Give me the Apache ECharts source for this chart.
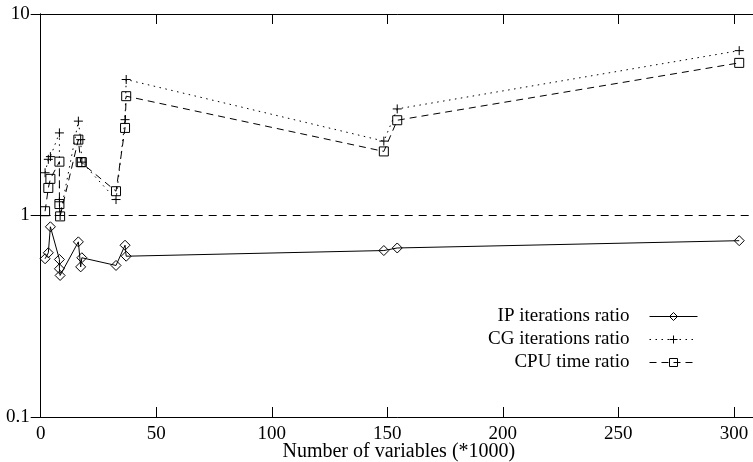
<!DOCTYPE html>
<html>
<head>
<meta charset="utf-8">
<script src="https://cdn.jsdelivr.net/npm/echarts@6/dist/echarts.min.js"></script>
<style>
html,body{margin:0;padding:0;background:#fff;}
#chart{width:753px;height:462px;}
</style>
</head>
<body>
<div id="chart"></div>
<script>
// Number of variables (*1000)
const variables = [1.9, 3.3, 4.2, 8.1, 8.1, 8.4, 16.3, 17.3, 17.8, 32.6, 36.5, 37.0, 148.5, 154.3, 302.3];
const ipRatio   = [0.61, 0.653, 0.879, 0.605, 0.544, 0.504, 0.74, 0.556, 0.617, 0.565, 0.712, 0.628, 0.67, 0.69, 0.75];
const cgRatio   = [1.63, 1.90, 1.96, 2.57, 1.17, 1.00, 2.94, 2.38, 1.84, 1.20, 2.99, 4.73, 2.34, 3.38, 6.58];
const cpuRatio  = [1.05, 1.37, 1.52, 1.85, 1.14, 0.99, 2.38, 1.84, 1.84, 1.32, 2.72, 3.91, 2.08, 2.97, 5.72];
const seriesNames = ['IP iterations ratio', 'CG iterations ratio', 'CPU time ratio'];
const xTicks = [0, 50, 100, 150, 200, 250, 300];
const yTicks = [0.1, 1, 10];
const referenceLevel = 1;

const FONT = 'Liberation Serif';
const pair = (xs, ys) => xs.map((x, i) => [x, ys[i]]);

const axisLineStyle = { show: true, lineStyle: { color: '#000', width: 1 } };
const tickStyle = { show: true, inside: true, length: 10, lineStyle: { color: '#000', width: 1 } };

const chart = echarts.init(document.getElementById('chart'), null, { renderer: 'canvas' });

const plusPath = 'path://M0,5L10,5M5,0L5,10';

const mkSeries = (name, data, symbol, size, dash) => ({
  name: name,
  type: 'line',
  data: data,
  symbol: symbol,
  symbolSize: size,
  showAllSymbol: true,
  animation: false,
  lineStyle: { color: '#000', width: 1, type: dash },
  itemStyle: { color: 'rgba(0,0,0,0)', borderColor: '#000', borderWidth: 1 },
  emphasis: { disabled: true },
  z: 3
});

const series = [
  mkSeries(seriesNames[0], pair(variables, ipRatio), 'diamond', [10, 10], 'solid'),
  mkSeries(seriesNames[1], pair(variables, cgRatio), plusPath, [9, 9], [1.5, 4.5]),
  mkSeries(seriesNames[2], pair(variables, cpuRatio), 'rect', [9, 9], [7, 5])
];
series[0].markLine = {
  silent: true,
  symbol: ['none', 'none'],
  label: { show: false },
  lineStyle: { color: '#000', width: 1, type: [8, 6] },
  data: [{ yAxis: referenceLevel }],
  animation: false
};

const legendTops = [307, 330, 353];
const legends = seriesNames.map((n, i) => ({
  data: [n],
  orient: 'vertical',
  right: 55,
  top: legendTops[i],
  align: 'right',
  itemWidth: 48,
  itemHeight: 10,
  padding: 0,
  lineStyle: { width: 1, color: '#000' },
  itemStyle: { color: 'rgba(0,0,0,0)', borderColor: '#000', borderWidth: 1 },
  textStyle: { fontFamily: FONT, fontSize: 19, color: '#000', padding: [0, 15, 0, 0] },
  selectedMode: false
}));

chart.setOption({
  backgroundColor: '#fff',
  animation: false,
  grid: { left: 40.7, right: -4, top: 14, bottom: 45, containLabel: false, outerBoundsMode: 'none' },
  legend: legends,
  xAxis: [
    {
      type: 'value', min: 0, max: 310, interval: 50, position: 'bottom',
      axisLine: axisLineStyle, axisTick: tickStyle, splitLine: { show: false },
      axisLabel: {
        color: '#000', fontFamily: FONT, fontSize: 19, margin: 8,
        showMaxLabel: false,
        formatter: v => (xTicks.indexOf(v) >= 0 ? String(v) : '')
      },
      name: 'Number of variables (*1000)', nameLocation: 'middle', nameGap: 25,
      nameMoveOverlap: false,
      nameTextStyle: { color: '#000', fontFamily: FONT, fontSize: 20 }
    },
    {
      type: 'value', min: 0, max: 310, interval: 50, position: 'top',
      axisLine: axisLineStyle, axisTick: tickStyle, axisLabel: { show: false }, splitLine: { show: false }
    }
  ],
  yAxis: [
    {
      type: 'log', logBase: 10, min: yTicks[0], max: yTicks[yTicks.length - 1], position: 'left',
      axisLine: axisLineStyle, axisTick: tickStyle, minorTick: { show: false }, splitLine: { show: false },
      axisLabel: {
        color: '#000', fontFamily: FONT, fontSize: 19, margin: 11,
        formatter: v => { const f = yTicks.find(t => Math.abs(t - v) < 1e-9); return f === undefined ? '' : String(f); }
      }
    },
    {
      type: 'log', logBase: 10, min: yTicks[0], max: yTicks[yTicks.length - 1], position: 'right',
      axisLine: axisLineStyle, axisTick: tickStyle, axisLabel: { show: false }, splitLine: { show: false }
    }
  ],
  series: series
});
</script>
</body>
</html>
